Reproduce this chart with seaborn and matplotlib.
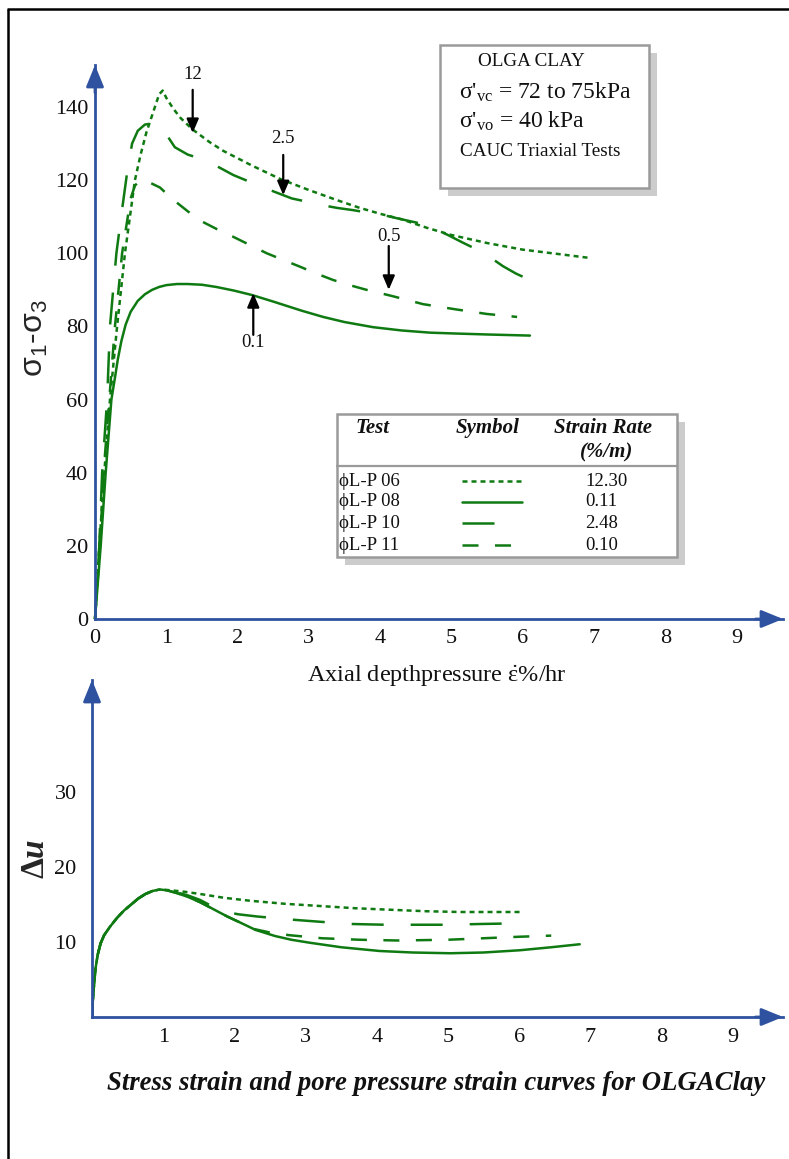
import numpy as np
import pandas as pd
import matplotlib
matplotlib.use("Agg")
import matplotlib.pyplot as plt
import seaborn as sns
from matplotlib.patches import Rectangle
from matplotlib.lines import Line2D

sns.set_theme(style="white")
plt.rcParams["font.family"] = ["Liberation Serif", "DejaVu Serif"]
plt.rcParams["mathtext.fontset"] = "custom"
plt.rcParams["mathtext.rm"] = "Liberation Serif"
plt.rcParams["mathtext.it"] = "Liberation Serif:italic"
plt.rcParams["mathtext.bf"] = "Liberation Serif:bold"
plt.rcParams["mathtext.bfit"] = "Liberation Serif:bold:italic"

# ---- test identifiers ----
tests = ["ϕL-P 06", "ϕL-P 08", "ϕL-P 10", "ϕL-P 11"]
rates = ["12.30", "0.11", "2.48", "0.10"]

# ---- deviator stress (kPa) vs axial strain (%) ----
strain_06 = [0, 0.03, 0.06, 0.13, 0.21, 0.31, 0.42, 0.56, 0.64, 0.72, 0.84, 0.9, 0.95, 1.0, 1.1,
             1.2, 1.36, 1.6, 1.8, 2.0, 2.2, 2.6, 3.0, 3.4, 3.7, 4.0, 4.3, 4.65, 5.0, 5.5, 6.0, 6.5, 6.95]
dev_06 = [0, 10, 20, 40, 60, 80, 100, 120, 127, 133, 140, 143.5, 144.5, 142.5, 139.5,
          137, 134, 130.5, 128, 126, 124, 120.3, 117.3, 114.5, 112.5, 110.8, 109.3, 107, 105, 102.8, 101, 99.8, 98.7]

strain_08 = [0, 0.04, 0.08, 0.15, 0.23, 0.28, 0.32, 0.37, 0.43, 0.5, 0.6, 0.7, 0.8, 0.9, 1.0, 1.15,
             1.3, 1.5, 1.7, 1.95, 2.2, 2.5, 2.9, 3.2, 3.5, 3.9, 4.3, 4.7, 5.0, 5.5, 6.1]
dev_08 = [0, 10, 20, 40, 60, 66, 71, 76, 80.5, 84, 87, 88.8, 90, 90.8, 91.3, 91.6,
          91.6, 91.4, 90.8, 89.8, 88.6, 86.8, 84.3, 82.6, 81.2, 79.8, 78.9, 78.3, 78.1, 77.8, 77.5]

strain_10 = [0, 0.06, 0.1, 0.17, 0.21, 0.3, 0.38, 0.45, 0.52, 0.6, 0.7, 0.84, 0.95, 1.12, 1.3, 1.54,
             1.75, 1.94, 2.15, 2.36, 2.56, 2.76, 3.0, 3.23, 3.4, 3.62, 3.8, 4.1, 4.3, 4.53, 4.75,
             4.95, 5.15, 5.36, 5.55, 5.72, 5.9, 6.13]
dev_10 = [0, 20, 40, 60, 80, 100, 112, 122, 130, 133.5, 135.2, 135.6, 134, 129, 127, 125.5,
          123.4, 121.4, 119.7, 118, 116.5, 115, 114, 113, 112.4, 111.8, 111.2, 110.2, 109.3, 108.3, 106.8,
          105, 103, 101, 98.8, 96.5, 94.5, 92.4]

strain_11 = [0, 0.07, 0.12, 0.2, 0.28, 0.38, 0.5, 0.56, 0.63, 0.75, 0.91, 1.1, 1.3, 1.47, 1.7, 1.94,
             2.2, 2.41, 2.65, 2.88, 3.1, 3.34, 3.57, 3.81, 4.17, 4.6, 5.05, 5.5, 5.92]
dev_11 = [0, 20, 40, 60, 80, 100, 115, 118.5, 120, 119.5, 118, 114.6, 111.5, 109, 106.7, 104.5,
          102, 100, 98.1, 96.3, 94.5, 92.7, 91.3, 90, 88.3, 86.1, 84.7, 83.4, 82.6]

# ---- excess pore pressure vs axial strain (%) ----
pstrain_06 = [0, 0.01, 0.03, 0.05, 0.08, 0.12, 0.17, 0.25, 0.35, 0.45, 0.55, 0.65, 0.75, 0.85, 0.95,
              1.1, 1.3, 1.52, 1.85, 2.22, 2.7, 3.2, 3.7, 4.19, 4.7, 5.17, 5.6, 6.01]
du_06 = [0, 2, 4.5, 6.5, 8.3, 9.8, 10.9, 12.0, 13.2, 14.2, 15.0, 15.8, 16.4, 16.8, 17.0,
         16.9, 16.7, 16.4, 15.9, 15.5, 15.1, 14.8, 14.5, 14.3, 14.1, 14.0, 14.0, 14.0]

pstrain_08 = [0, 0.01, 0.03, 0.05, 0.08, 0.12, 0.17, 0.25, 0.35, 0.45, 0.55, 0.65, 0.75, 0.85, 0.95,
              1.05, 1.2, 1.35, 1.52, 1.7, 1.9, 2.08, 2.3, 2.57, 2.8, 3.06, 3.5, 4.04, 4.5, 5.03,
              5.5, 6.01, 6.45, 6.85]
du_08 = [0, 2, 4.5, 6.5, 8.3, 9.8, 10.9, 12.0, 13.2, 14.2, 15.0, 15.8, 16.4, 16.8, 17.0,
         16.9, 16.5, 16.0, 15.3, 14.4, 13.4, 12.6, 11.6, 10.8, 10.3, 9.9, 9.3, 8.8, 8.6, 8.5,
         8.6, 8.9, 9.3, 9.7]

pstrain_10 = [0, 0.01, 0.03, 0.05, 0.08, 0.12, 0.17, 0.25, 0.35, 0.45, 0.55, 0.65, 0.75, 0.85, 0.95,
              1.05, 1.2, 1.35, 1.52, 1.8, 2.05, 2.32, 2.78, 3.2, 3.65, 4.12, 4.54, 5.0, 5.45, 6.04]
du_10 = [0, 2, 4.5, 6.5, 8.3, 9.8, 10.9, 12.0, 13.2, 14.2, 15.0, 15.8, 16.4, 16.8, 17.0,
         16.9, 16.6, 16.2, 15.6, 14.2, 13.7, 13.4, 13.0, 12.7, 12.4, 12.3, 12.3, 12.3, 12.4, 12.5]

pstrain_11 = [0, 0.01, 0.03, 0.05, 0.08, 0.12, 0.17, 0.25, 0.35, 0.45, 0.55, 0.65, 0.75, 0.85, 0.95,
              1.05, 1.2, 1.35, 1.52, 1.7, 1.9, 2.08, 2.29, 2.53, 2.78, 3.23, 3.76, 4.3, 5.0,
              5.5, 6.0, 6.45]
du_11 = [0, 2, 4.5, 6.5, 8.3, 9.8, 10.9, 12.0, 13.2, 14.2, 15.0, 15.8, 16.4, 16.8, 17.0,
         16.9, 16.5, 16.0, 15.3, 14.4, 13.4, 12.6, 11.7, 11.2, 10.9, 10.5, 10.3, 10.2, 10.3,
         10.5, 10.7, 10.85]

# ---- rate annotations on the stress curves ----
rate_labels = ["12", "2.5", "0.5", "0.1"]
rate_x = [1.37, 2.64, 4.12, 2.22]
rate_tail = [144.7, 126.9, 102.0, 77.7]
rate_tip = [132.9, 115.9, 90.0, 89.1]
rate_text_y = [148.8, 131.5, 104.7, 75.5]

x_ticks = list(range(0, 10))
y_ticks_top = list(range(0, 141, 20))
y_ticks_bot = [10, 20, 30]

GREEN = "#0f7a12"
BLUE = "#2f52a0"
LW = 1.8
dash_map = {
    tests[0]: (2.0, 1.6),
    tests[1]: "",
    tests[2]: (12.8, 10.8),
    tests[3]: (6.4, 6.6),
}

stress_df = pd.concat([
    pd.DataFrame({"strain": s, "value": v, "test": t})
    for s, v, t in zip([strain_06, strain_08, strain_10, strain_11],
                       [dev_06, dev_08, dev_10, dev_11], tests)
], ignore_index=True)
pore_df = pd.concat([
    pd.DataFrame({"strain": s, "value": v, "test": t})
    for s, v, t in zip([pstrain_06, pstrain_08, pstrain_10, pstrain_11],
                       [du_06, du_08, du_10, du_11], tests)
], ignore_index=True)

W, H = 789, 1159
fig = plt.figure(figsize=(W / 100, H / 100), dpi=100)
fig.patch.set_facecolor("white")


def px_axes(x0, y0, x1, y1):
    """Axes whose data origin sits at pixel (x0, y0) and far corner at (x1, y1)."""
    return fig.add_axes([x0 / W, 1 - y0 / H, (x1 - x0) / W, (y0 - y1) / H])


def style_axes(ax, xmax, ymax, yticks, xticks, ylen, xlen, ypad, xpad):
    ax.set_xlim(0, xmax)
    ax.set_ylim(0, ymax)
    ax.set_facecolor("none")
    for side in ["top", "right"]:
        ax.spines[side].set_visible(False)
    for side in ["left", "bottom"]:
        ax.spines[side].set_color(BLUE)
        ax.spines[side].set_linewidth(2.0)
    ax.set_xticks(xticks)
    ax.set_yticks(yticks)
    ax.tick_params(axis="y", direction="in", length=ylen, width=2.0, color=BLUE,
                   labelsize=16, labelcolor="#111111", pad=ypad)
    ax.tick_params(axis="x", direction="in", length=xlen, width=2.0, color=BLUE,
                   labelsize=16, labelcolor="#111111", pad=xpad)
    ax.set_xlabel("")
    ax.set_ylabel("")
    arrow = dict(arrowstyle="-|>,head_length=1.1,head_width=0.45", color=BLUE,
                 lw=2.0, shrinkA=0, shrinkB=0)
    ax.annotate("", xy=(0, 1), xytext=(0, 0.95), xycoords="axes fraction",
                arrowprops=arrow, annotation_clip=False)
    ax.annotate("", xy=(1, 0), xytext=(0.96, 0), xycoords="axes fraction",
                arrowprops=arrow, annotation_clip=False)


# ---- upper panel: deviator stress ----
ax1 = px_axes(95, 619, 783, 65)
sns.lineplot(data=stress_df, x="strain", y="value", style="test", dashes=dash_map,
             color=GREEN, linewidth=LW, sort=False, estimator=None, legend=False, ax=ax1)
for line in ax1.get_lines():
    line.set_clip_on(False)
style_axes(ax1, (783 - 95) / 71.3, (619 - 65) / 3.657, y_ticks_top, x_ticks,
           ylen=13, xlen=13.5, ypad=5, xpad=7)
ax1.set_xticklabels([str(v) for v in x_ticks])
ax1.set_yticklabels([str(v) for v in y_ticks_top])

for lab, x, tail, tip, ty in zip(rate_labels, rate_x, rate_tail, rate_tip, rate_text_y):
    ax1.annotate("", xy=(x, tip), xytext=(x, tail),
                 arrowprops=dict(arrowstyle="-|>,head_length=0.7,head_width=0.3",
                                 color="black", lw=1.6, shrinkA=0, shrinkB=0))
    ax1.text(x, ty, lab, ha="center", va="center", fontsize=13.5, color="#111111")

# ---- lower panel: excess pore pressure ----
ax2 = px_axes(92, 1017, 783, 680)
sns.lineplot(data=pore_df, x="strain", y="value", style="test", dashes=dash_map,
             color=GREEN, linewidth=LW, sort=False, estimator=None, legend=False, ax=ax2)
style_axes(ax2, (783 - 92) / 71.2, (1017 - 680) / 7.5, y_ticks_bot, x_ticks[1:],
           ylen=16, xlen=9.5, ypad=11, xpad=8)
ax2.set_xticklabels([str(v) for v in x_ticks[1:]])
ax2.set_yticklabels([str(v) for v in y_ticks_bot])

# ---- axis titles and caption ----
fig.text(35 / W, 1 - 338 / H, r"σ$\mathregular{_1}$-σ$\mathregular{_3}$", rotation=90,
         ha="center", va="center", fontsize=23, family=["Liberation Sans", "DejaVu Sans"])
fig.text(437 / W, 1 - 676 / H, r"Axial depthpressure $\dot{\mathrm{\varepsilon}}$%/hr",
         ha="center", va="center", fontsize=17.5, color="#111111")
fig.text(36 / W, 1 - 859 / H, r"$\mathbf{\Delta}\mathbfit{u}$", rotation=90,
         ha="center", va="center", fontsize=24)
fig.text(436 / W, 1 - 1083 / H, "Stress strain and pore pressure strain curves for OLGAClay",
         ha="center", va="center", fontsize=19.3, fontweight="bold", fontstyle="italic",
         color="#111111")

# ---- overlay in pixel units for the boxes and frame ----
ov = fig.add_axes([0, 0, 1, 1], zorder=10)
ov.set_xlim(0, W)
ov.set_ylim(H, 0)
ov.axis("off")
ov.patch.set_alpha(0)

ov.plot([7, W], [9, 9], color="black", lw=1.8, solid_capstyle="butt")
ov.plot([8, 8], [9, H], color="black", lw=1.8, solid_capstyle="butt")

# specimen information box
ov.add_patch(Rectangle((448, 53), 209, 143, facecolor="#cccccc", edgecolor="none"))
ov.add_patch(Rectangle((440, 45), 209, 143, facecolor="white", edgecolor="#9a9a9a", lw=1.8))
ov.text(478, 62, "OLGA CLAY", ha="left", va="center", fontsize=13.8, color="#111111")
ov.text(459, 92, r"σ'$_{\rm vc}$ = 72 to 75kPa", ha="left", va="center", fontsize=17, color="#111111")
ov.text(459, 121, r"σ'$_{\rm vo}$ = 40 kPa", ha="left", va="center", fontsize=17, color="#111111")
ov.text(460, 152, "CAUC Triaxial Tests", ha="left", va="center", fontsize=13.8, color="#111111")

# key table
ov.add_patch(Rectangle((345, 422), 340, 143, facecolor="#cccccc", edgecolor="none"))
ov.add_patch(Rectangle((337, 414), 340, 143, facecolor="white", edgecolor="#9a9a9a", lw=1.8))
ov.plot([337, 677], [466, 466], color="#9a9a9a", lw=1.6)
hdr = dict(ha="left", va="center", fontsize=15, fontweight="bold", fontstyle="italic",
           color="#111111")
ov.text(355, 428, "Test", **hdr)
ov.text(456, 428, "Symbol", **hdr)
ov.text(554, 428, "Strain Rate", **hdr)
ov.text(580, 452, "(%/m)", **hdr)
row_y = [481, 502, 523, 545]
sym_end = [522, 522, 494, 511]
for t, r, y, xe in zip(tests, rates, row_y, sym_end):
    ov.text(339, y, t, ha="left", va="center", fontsize=13.5, color="#111111")
    ov.text(585, y, r, ha="left", va="center", fontsize=13.5, color="#111111")
    d = dash_map[t]
    ln = Line2D([462, xe], [y, y], color=GREEN, lw=LW)
    if d:
        ln.set_dashes(d)
    ov.add_line(ln)

fig.savefig("out.png", dpi=100, facecolor="white")
